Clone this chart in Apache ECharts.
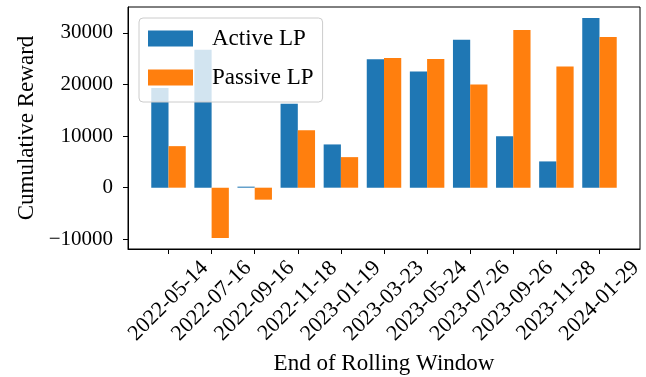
<!DOCTYPE html>
<html>
<head>
<meta charset="utf-8">
<script src="https://cdn.jsdelivr.net/npm/echarts@6/dist/echarts.min.js"></script>
<style>html,body{margin:0;padding:0;background:#fff}#c{width:646px;height:377px}</style>
</head>
<body>
<div id="c"></div>
<script>
const categories = ['2022-05-14','2022-07-16','2022-09-16','2022-11-18','2023-01-19','2023-03-23','2023-05-24','2023-07-26','2023-09-26','2023-11-28','2024-01-29'];
const activeLP = [19300, 26750, 200, 16250, 8380, 24870, 22500, 28680, 9980, 5090, 32880];
const passiveLP = [8050, -9750, -2320, 11140, 5920, 25140, 24950, 19980, 30560, 23460, 29200];
const yTicks = [-10000, 0, 10000, 20000, 30000];
const xTicks = categories.map((c, i) => i);

const FONT = 'Liberation Serif';
const chart = echarts.init(document.getElementById('c'), null, {renderer: 'canvas'});
chart.setOption({
  animation: false,
  backgroundColor: '#fff',
  grid: {left: 128, right: 6, top: 7, bottom: 128, containLabel: false, outerBoundsMode: 'none',
         show: true, borderColor: '#000', borderWidth: 1, backgroundColor: 'transparent'},
  legend: {
    orient: 'vertical', left: 139, top: 18,
    padding: [9, 9, 13, 9],
    icon: 'rect',
    itemWidth: 45, itemHeight: 16, itemGap: 16,
    backgroundColor: 'rgba(255,255,255,0.8)', borderColor: '#cccccc', borderWidth: 1, borderRadius: 4,
    textStyle: {fontFamily: FONT, fontSize: 23, color: '#000', lineHeight: 16, padding: [0, 0, 0, 14], width: 100},
    data: ['Active LP', 'Passive LP']
  },
  xAxis: {
    type: 'value', min: -0.94, max: 10.94,
    name: 'End of Rolling Window', nameLocation: 'middle', nameGap: 103, nameMoveOverlap: false,
    nameTextStyle: {fontFamily: FONT, fontSize: 23, color: '#000'},
    axisLine: {onZero: false, lineStyle: {color: '#000', width: 1}},
    axisTick: {show: true, length: 5, lineStyle: {color: '#000'}, customValues: xTicks},
    axisLabel: {
      customValues: xTicks, rotate: 45, align: 'center', verticalAlign: 'middle', margin: 52,
      fontFamily: FONT, fontSize: 22, color: '#000',
      formatter: v => categories[Math.round(v)]
    },
    splitLine: {show: false}
  },
  yAxis: {
    type: 'value', min: -11880, max: 35010,
    name: 'Cumulative Reward', nameLocation: 'middle', nameGap: 90, nameRotate: 90, nameMoveOverlap: false,
    nameTextStyle: {fontFamily: FONT, fontSize: 23, color: '#000'},
    axisLine: {show: true, onZero: false, lineStyle: {color: '#000', width: 1}},
    axisTick: {show: true, length: 5, lineStyle: {color: '#000'}, customValues: yTicks},
    axisLabel: {
      customValues: yTicks, margin: 15, fontFamily: FONT, fontSize: 21, color: '#000',
      formatter: v => v < 0 ? '\u2212' + Math.abs(v) : String(v)
    },
    splitLine: {show: false}
  },
  series: [
    {name: 'Active LP', type: 'bar', barWidth: '40%', barGap: '0%', itemStyle: {color: '#1f77b4'},
     data: activeLP.map((v, i) => [i, v])},
    {name: 'Passive LP', type: 'bar', barWidth: '40%', barGap: '0%', itemStyle: {color: '#ff7f0e'},
     data: passiveLP.map((v, i) => [i, v])}
  ]
});
</script>
</body>
</html>
